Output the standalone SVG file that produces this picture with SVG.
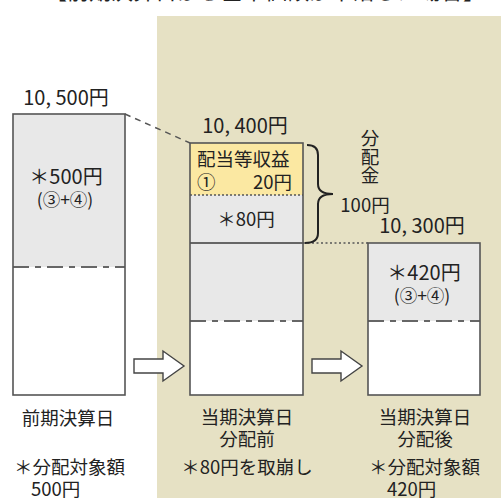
<svg xmlns="http://www.w3.org/2000/svg" width="501" height="498" viewBox="0 0 501 498">
<style>
text{font-family:"Noto Sans CJK JP","Noto Sans",sans-serif;fill:#222;}
.t{font-size:18.5px;}
.s{font-size:17.5px;}
.b{font-size:20px;}
.c{text-anchor:middle;}
.box{fill:none;stroke:#555;stroke-width:1.6;}
.dd{stroke:#666;stroke-width:2;stroke-dasharray:16,6,6,6;fill:none;}
.arrow{fill:#fff;stroke:#444;stroke-width:1.4;}
</style>
<rect x="0" y="0" width="501" height="498" fill="#fff"/>
<rect x="157" y="16" width="344" height="482" fill="#e6e1c4"/>
<text x="265" y="-1" class="c" font-size="22">【前期決算日から基準価額が下落した場合】</text>

<g id="connectors">
<line x1="125" y1="114" x2="190" y2="143" stroke="#555" stroke-width="1.5" stroke-dasharray="6,5"/>
<line x1="303" y1="243" x2="368" y2="243" stroke="#555" stroke-width="1.5" stroke-dasharray="2,2.5"/>
<path class="arrow" d="M134,359 H163 V351 L184,366 L163,381 V373 H134 Z"/>
<path class="arrow" d="M312,359 H341 V351 L362,366 L341,381 V373 H312 Z"/>
</g>

<g id="prev">
<rect x="13" y="114" width="112" height="153" fill="#e8e8e8"/>
<rect x="13" y="267" width="112" height="128" fill="#fff"/>
<line x1="13" y1="267" x2="125" y2="267" class="dd"/>
<rect x="13" y="114" width="112" height="281" class="box"/>
<text x="66" y="105" class="c b">10, 500円</text>
<text x="66" y="184" class="c b">＊500円</text>
<text x="65" y="206" class="c s">(③+④)</text>
<text x="68" y="425" class="c t">前期決算日</text>
<text x="14" y="474" class="t">＊分配対象額</text>
<text x="31" y="496" class="t">500円</text>
</g>

<g id="before">
<rect x="190" y="143" width="113" height="52" fill="#fbe8a2"/>
<rect x="190" y="195" width="113" height="126" fill="#e8e8e8"/>
<rect x="190" y="321" width="113" height="74" fill="#fff"/>
<line x1="190" y1="195" x2="303" y2="195" stroke="#555" stroke-width="1.3" stroke-dasharray="2,2"/>
<line x1="190" y1="243" x2="303" y2="243" stroke="#666" stroke-width="2"/>
<line x1="190" y1="321" x2="303" y2="321" class="dd"/>
<rect x="190" y="143" width="113" height="252" class="box"/>
<text x="245" y="133" class="c b">10, 400円</text>
<text x="197" y="166" class="t">配当等収益</text>
<text x="197" y="189" class="t">①</text>
<text x="292" y="189" class="t" text-anchor="end">20円</text>
<text x="246" y="226" class="c t">＊80円</text>
<text x="247" y="424" class="c t">当期決算日</text>
<text x="247" y="446" class="c t">分配前</text>
<text x="247" y="474" class="c t">＊80円を取崩し</text>
</g>

<g id="brace">
<path d="M307,145 Q318,145 318,155 V184 Q318,194 333,194 Q318,194 318,204 V233 Q318,243 305,243" fill="none" stroke="#222" stroke-width="2"/>
<text x="370" y="129" class="t" writing-mode="vertical-rl" style="text-orientation:upright">分配金</text>
<text x="365" y="212" class="c t">100円</text>
</g>

<g id="after">
<rect x="368" y="243" width="112" height="78" fill="#e8e8e8"/>
<rect x="368" y="321" width="112" height="74" fill="#fff"/>
<line x1="368" y1="321" x2="480" y2="321" class="dd"/>
<rect x="368" y="243" width="112" height="152" class="box"/>
<text x="422" y="233" class="c b">10, 300円</text>
<text x="424" y="280" class="c b">＊420円</text>
<text x="422" y="302" class="c s">(③+④)</text>
<text x="425" y="424" class="c t">当期決算日</text>
<text x="425" y="446" class="c t">分配後</text>
<text x="369" y="474" class="t">＊分配対象額</text>
<text x="387" y="496" class="t">420円</text>
</g>
</svg>
